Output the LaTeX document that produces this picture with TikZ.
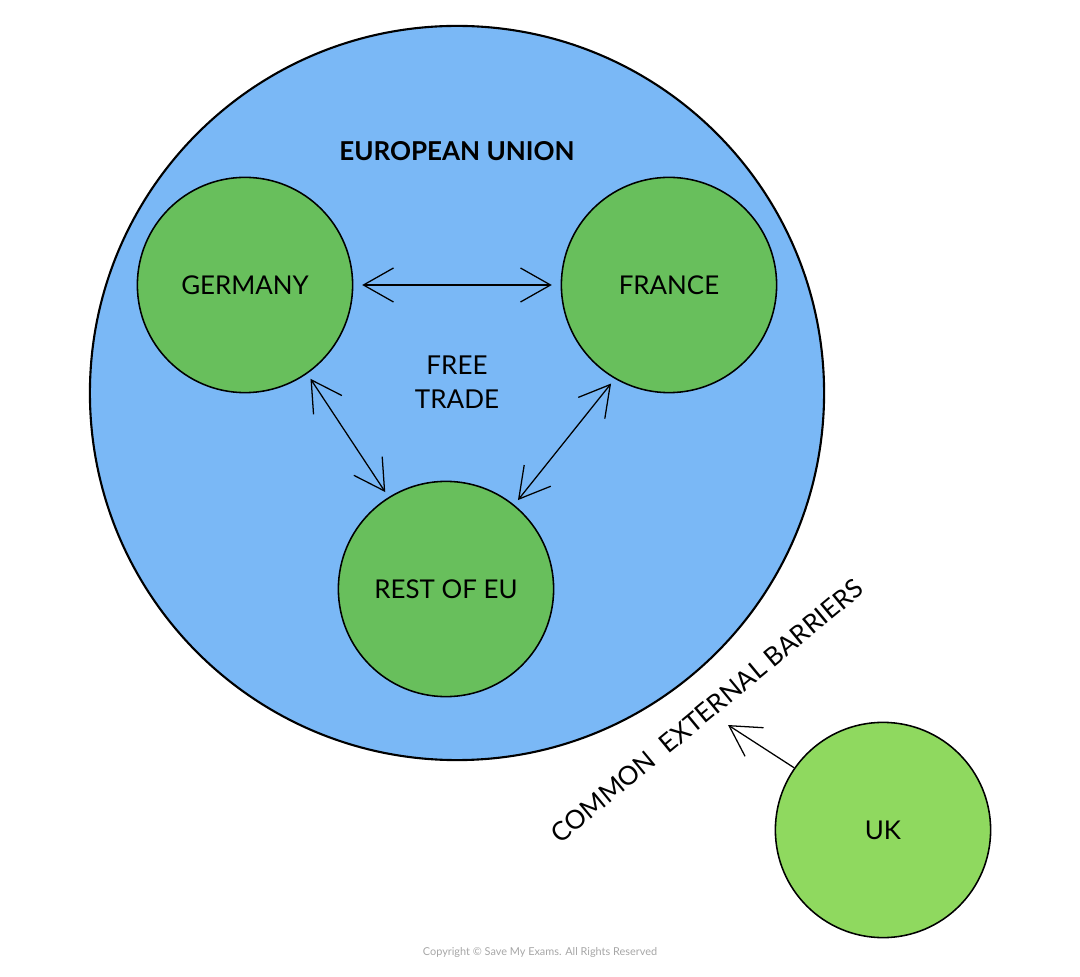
\documentclass[tikz,border=0pt]{standalone}
\usepackage{fontspec}
\setmainfont{Lato}
\usetikzlibrary{arrows.meta}
\definecolor{eublue}{HTML}{7AB8F6}
\definecolor{memgreen}{HTML}{68BF5C}
\definecolor{ukgreen}{HTML}{8FD95F}
\tikzset{barb/.tip={Straight Barb[length=0.75cm,width=0.85cm,line width=0.9pt]}}
\begin{document}
\begin{tikzpicture}[x=0.025cm,y=-0.025cm,
  bloc/.style={circle,draw=black,line width=1.5pt,fill=eublue,minimum size=18.35cm,inner sep=0pt},
  member/.style={circle,draw=black,line width=1.1pt,fill=memgreen,minimum size=5.38cm,inner sep=0pt,font=\fontsize{18.4}{23}\selectfont},
  trade/.style={line width=0.9pt,barb-barb,shorten <=0.15cm,shorten >=0.15cm},
  lab/.style={font=\fontsize{18.5}{24}\selectfont,align=center}]
  \useasboundingbox (0,0) rectangle (1080,977);
  \node[bloc] (eu) at (457,393) {};
  \node[member] (germany) at (245,285) {GERMANY};
  \node[member] (france) at (669,285) {FRANCE};
  \node[member] (rest) at (446,589) {REST OF EU};
  \node[member,fill=ukgreen] (uk) at (883,830) {UK};
  \node[lab] (title) at (457,151) {\bfseries EUROPEAN UNION};
  \node[lab] (free) at (457,382) {FREE\\TRADE};
  \node[lab,rotate=39.6] (barriers) at (707,711) {COMMON\ \ EXTERNAL BARRIERS};
  \node[text=black!35,font=\fontsize{7.75}{10}\selectfont] (copy) at (540,952) {Copyright © Save My Exams. All Rights Reserved};
  \coordinate (wall) at (728,725);
  \draw[trade,shorten <=0.22cm,shorten >=0.22cm] (germany) -- (france);
  \draw[trade] (germany.305.7) -- (rest.122.3);
  \draw[trade] (france.240) -- (rest.51.6);
  \draw[line width=0.9pt,-barb] (uk.145) -- (wall);
\end{tikzpicture}
\end{document}
